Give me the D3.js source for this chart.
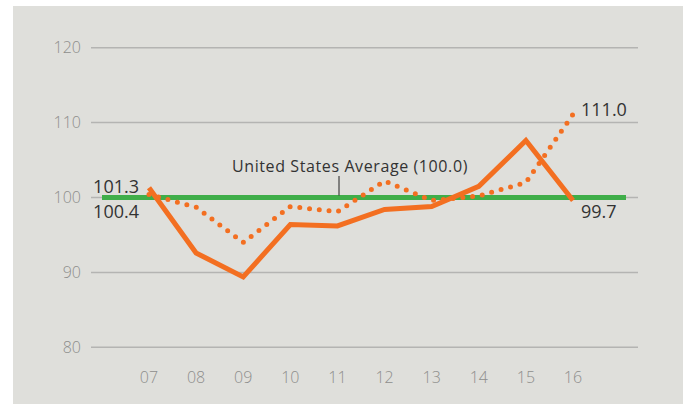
<!DOCTYPE html>
<html>
<head>
<meta charset="utf-8">
<script src="https://cdn.jsdelivr.net/npm/d3@7"></script>
<style>
  html, body { margin: 0; padding: 0; background: #fff; }
  svg { display: block; }
  text { font-family: 'Open Sans', Lato, sans-serif; }
</style>
</head>
<body>
<div class="chart"></div>
<script>
'use strict'
const years = ['07', '08', '09', '10', '11', '12', '13', '14', '15', '16']
const solidValues = [101.3, 92.6, 89.4, 96.4, 96.2, 98.4, 98.8, 101.5, 107.6, 99.6]
const dottedValues = [100.4, 98.7, 94.0, 98.8, 98.1, 102.2, 99.6, 100.2, 102.0, 111.1]
const yTicks = [80, 90, 100, 110, 120]
const average = 100
const averageLabel = 'United States Average (100.0)'
const endLabels = { solidStart: '101.3', dottedStart: '100.4', dottedEnd: '111.0', solidEnd: '99.7' }

const width = 683
const height = 404
const orange = '#f36f21'

const svg = d3.select('.chart').append('svg')
  .attr('width', width)
  .attr('height', height)

// panel
svg.append('rect')
  .attr('x', 13).attr('y', 6)
  .attr('width', width - 13).attr('height', height - 6)
  .attr('fill', '#dfdfdb')

const x = d3.scalePoint().domain(years).range([149, 573])
const y = d3.scaleLinear().domain([80, 120]).range([347.3, 47.7])

// grid lines + y labels
const grid = svg.append('g')
grid.selectAll('line')
  .data(yTicks)
  .enter().append('line')
  .attr('x1', 91).attr('x2', 638)
  .attr('y1', d => y(d)).attr('y2', d => y(d))
  .attr('stroke', '#b4b4b2')
  .attr('stroke-width', 1.5)
grid.selectAll('text')
  .data(yTicks)
  .enter().append('text')
  .attr('x', 81)
  .attr('y', d => y(d) + 5.5)
  .attr('text-anchor', 'end')
  .attr('fill', '#8e8e8c')
  .style('font-size', '16px')
  .style('font-weight', 300)
  .text(d => d)

// x labels
svg.append('g').selectAll('text')
  .data(years)
  .enter().append('text')
  .attr('x', d => x(d))
  .attr('y', 383)
  .attr('text-anchor', 'middle')
  .attr('fill', '#8e8e8c')
  .style('font-size', '16px')
  .style('font-weight', 300)
  .text(d => d)

// average line
svg.append('line')
  .attr('x1', 102).attr('x2', 626)
  .attr('y1', y(average)).attr('y2', y(average))
  .attr('stroke', '#3fae49')
  .attr('stroke-width', 5)

// callout for average
svg.append('line')
  .attr('x1', 339).attr('x2', 339)
  .attr('y1', 176).attr('y2', y(average) - 2)
  .attr('stroke', '#222')
  .attr('stroke-width', 1)
svg.append('text')
  .attr('x', 350)
  .attr('y', 172)
  .attr('text-anchor', 'middle')
  .attr('fill', '#333')
  .style('font-size', '16px')
  .style('letter-spacing', '0.6px')
  .text(averageLabel)

const line = d3.line()
  .x((d, i) => x(years[i]))
  .y(d => y(d))

svg.append('path')
  .datum(dottedValues)
  .attr('d', line)
  .attr('fill', 'none')
  .attr('stroke', orange)
  .attr('stroke-width', 5)
  .attr('stroke-linecap', 'round')
  .attr('stroke-dasharray', '0 9.8')

svg.append('path')
  .datum(solidValues)
  .attr('d', line)
  .attr('fill', 'none')
  .attr('stroke', orange)
  .attr('stroke-width', 5)
  .attr('stroke-linejoin', 'miter')

// value labels
const labels = svg.append('g')
  .attr('fill', '#333')
  .style('font-size', '18px')
labels.append('text')
  .attr('x', 139).attr('y', 193)
  .attr('text-anchor', 'end')
  .text(endLabels.solidStart)
labels.append('text')
  .attr('x', 139).attr('y', 218)
  .attr('text-anchor', 'end')
  .text(endLabels.dottedStart)
labels.append('text')
  .attr('x', 581).attr('y', 116)
  .text(endLabels.dottedEnd)
labels.append('text')
  .attr('x', 581).attr('y', 218)
  .text(endLabels.solidEnd)
</script>
</body>
</html>
